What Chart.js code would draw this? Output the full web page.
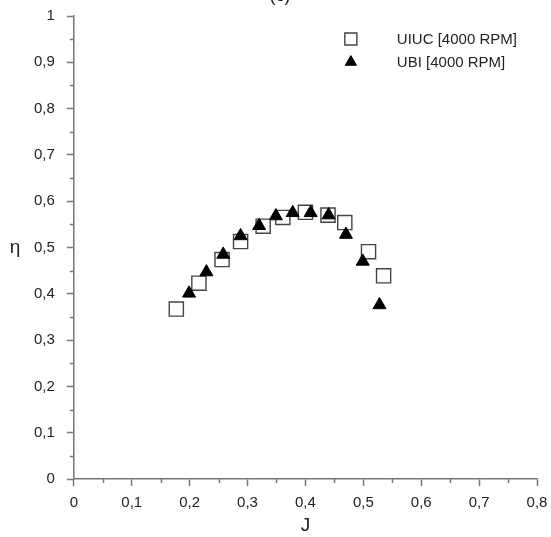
<!DOCTYPE html>
<html>
<head>
<meta charset="utf-8">
<style>
  html, body { margin: 0; padding: 0; background: #fff; }
</style>
</head>
<body>
<canvas id="myChart" width="551" height="537"></canvas>
<script src="https://cdn.jsdelivr.net/npm/chart.js@4.4.1/dist/chart.umd.min.js"></script>
<script>
const uiucJ = [0.177, 0.216, 0.256, 0.288, 0.327, 0.361, 0.400, 0.439, 0.468, 0.509, 0.535];
const uiucEta = [0.367, 0.423, 0.474, 0.513, 0.546, 0.565, 0.576, 0.570, 0.554, 0.491, 0.439];
const ubiJ = [0.199, 0.229, 0.258, 0.288, 0.320, 0.349, 0.378, 0.409, 0.440, 0.470, 0.499, 0.528];
const ubiEta = [0.401, 0.447, 0.485, 0.525, 0.547, 0.568, 0.575, 0.575, 0.570, 0.528, 0.470, 0.376];
const seriesNames = ['UIUC [4000 RPM]', 'UBI [4000 RPM]'];
const xMinorTicks = [0.05, 0.15, 0.25, 0.35, 0.45, 0.55, 0.65, 0.75];
const yMinorTicks = [0.05, 0.15, 0.25, 0.35, 0.45, 0.55, 0.65, 0.75, 0.85, 0.95];

const font = 'Liberation Sans, Arial, sans-serif';
const axisColor = '#777';

function toPoints(xs, ys) {
    let pts = [];
    for (let i = 0; i < xs.length; i++) {
        pts.push({ x: xs[i], y: ys[i] });
    }
    return pts;
}

function commaLabel(v) {
    return Number(v.toFixed(2)).toString().replace('.', ',');
}

// short ticks between the labelled ones
const minorTicks = {
    id: 'minorTicks',
    beforeDatasetsDraw(chart) {
        const { ctx, chartArea, scales } = chart;
        ctx.save();
        ctx.strokeStyle = axisColor;
        ctx.lineWidth = 1.5;
        ctx.beginPath();
        xMinorTicks.forEach(v => {
            const px = Math.round(scales.x.getPixelForValue(v)) + 0.5;
            ctx.moveTo(px, chartArea.bottom);
            ctx.lineTo(px, chartArea.bottom + 4);
        });
        yMinorTicks.forEach(v => {
            const py = Math.round(scales.y.getPixelForValue(v)) + 0.5;
            ctx.moveTo(chartArea.left - 4, py);
            ctx.lineTo(chartArea.left, py);
        });
        ctx.stroke();
        ctx.restore();
    }
};

// legend inside the plot, upright eta, clipped panel letter
const extras = {
    id: 'extras',
    afterDraw(chart) {
        const { ctx, chartArea } = chart;
        ctx.save();
        ctx.fillStyle = '#222';
        ctx.textBaseline = 'middle';
        ctx.textAlign = 'center';
        ctx.font = '19px ' + font;
        ctx.fillText('η', 15, (chartArea.top + chartArea.bottom) / 2);

        ctx.textBaseline = 'alphabetic';
        ctx.font = '18px ' + font;
        ctx.fillText('(c)', 280, 1);

        const sets = chart.data.datasets;
        const rows = [chartArea.top + 23, chartArea.top + 46];
        ctx.textAlign = 'left';
        ctx.textBaseline = 'middle';
        ctx.font = '15px ' + font;
        for (let i = 0; i < sets.length; i++) {
            const ds = sets[i];
            const y = rows[i];
            ctx.fillStyle = ds.backgroundColor;
            ctx.strokeStyle = ds.borderColor;
            ctx.lineWidth = ds.borderWidth;
            Chart.helpers.drawPoint(ctx, {
                pointStyle: ds.pointStyle,
                radius: ds.pointStyle === 'rect' ? 8.5 : 6.5,
                rotation: 0,
                borderWidth: ds.borderWidth
            }, chartArea.left + 277, y);
            ctx.fillStyle = '#222';
            ctx.fillText(ds.label, chartArea.left + 323, y + 1);
        }
        ctx.restore();
    }
};

const ctx = document.getElementById('myChart').getContext('2d');

const myChart = new Chart(ctx, {
    type: 'scatter',
    data: {
        datasets: [{
            label: seriesNames[0],
            data: toPoints(uiucJ, uiucEta),
            pointStyle: 'rect',
            pointRadius: 10,
            backgroundColor: '#fff',
            borderColor: '#444',
            borderWidth: 1.4,
            order: 2
        }, {
            label: seriesNames[1],
            data: toPoints(ubiJ, ubiEta),
            pointStyle: 'triangle',
            pointRadius: 7.5,
            backgroundColor: '#000',
            borderColor: '#000',
            borderWidth: 1,
            order: 1
        }]
    },
    options: {
        responsive: false,
        animation: false,
        devicePixelRatio: 1,
        layout: { autoPadding: false, padding: { left: 22, right: 14, top: 16, bottom: 0 } },
        plugins: {
            legend: { display: false },
            tooltip: { enabled: false }
        },
        scales: {
            x: {
                type: 'linear',
                min: 0,
                max: 0.8,
                border: { color: axisColor, width: 1.5 },
                grid: { drawOnChartArea: false, tickLength: 7, tickColor: axisColor, tickWidth: 1.5 },
                ticks: {
                    stepSize: 0.1,
                    padding: 3.5,
                    color: '#222',
                    font: { family: font, size: 15, lineHeight: 1.8 },
                    maxRotation: 0,
                    callback: v => commaLabel(v)
                },
                title: {
                    display: true,
                    text: 'J',
                    color: '#222',
                    font: { family: font, size: 19 },
                    padding: { top: -5.8, bottom: 0 }
                }
            },
            y: {
                type: 'linear',
                min: 0,
                max: 1,
                border: { color: axisColor, width: 1.5 },
                grid: { drawOnChartArea: false, tickLength: 7, tickColor: axisColor, tickWidth: 1.5 },
                ticks: {
                    stepSize: 0.1,
                    padding: 12,
                    color: '#222',
                    font: { family: font, size: 15, lineHeight: 0.54 },
                    callback: v => commaLabel(v)
                }
            }
        }
    },
    plugins: [minorTicks, extras]
});
</script>
</body>
</html>
